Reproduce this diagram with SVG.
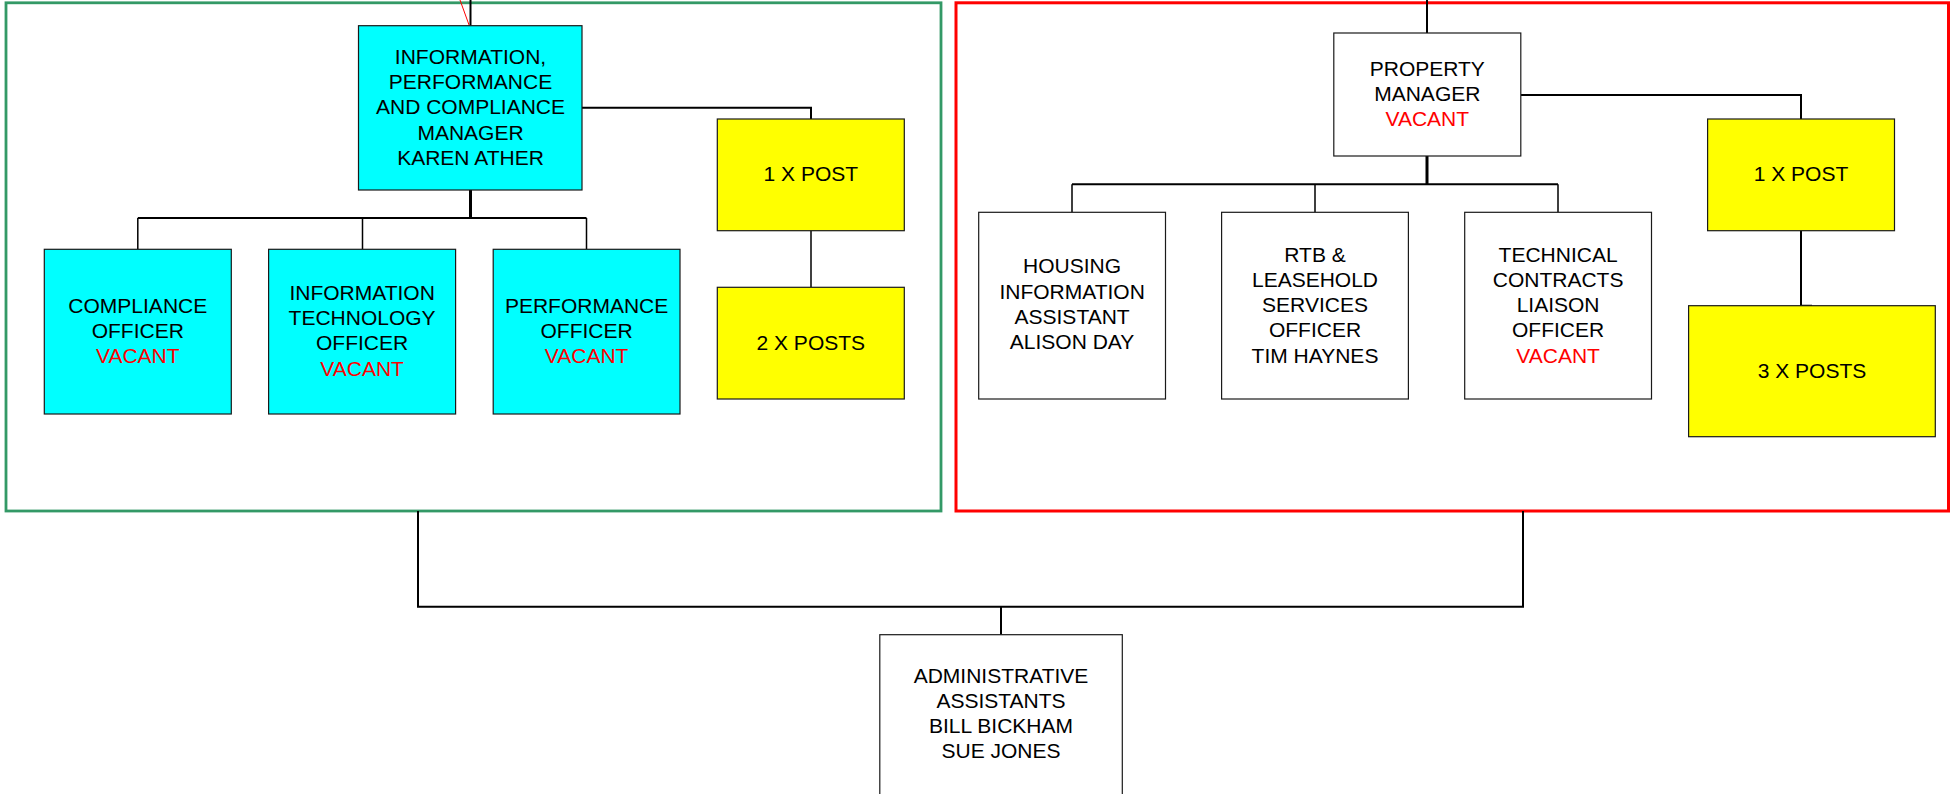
<svg xmlns="http://www.w3.org/2000/svg" width="1950" height="794" viewBox="0 0 1950 794">
  <style>
    .box { stroke: #1a1a1a; stroke-width: 1.2; }
    .cyan { fill: #00ffff; }
    .yellow { fill: #ffff00; }
    .white { fill: #ffffff; }
    .lbl { font-family: "Liberation Sans", Arial, sans-serif; font-size: 21px; fill: #000; text-anchor: middle; }
    .vac { fill: #ff0000; }
    .wire { fill: none; stroke: #000; stroke-width: 2; }
    .thick { stroke-width: 3; }
    .thin { stroke-width: 1.5; }
  </style>

  <rect width="1950" height="794" fill="#ffffff"/>

  <!-- section frames -->
  <g id="frames" fill="none">
    <rect id="frame-information" x="6" y="2.8" width="935" height="508.2" stroke="#339966" stroke-width="2.8"/>
    <rect id="frame-property" x="956" y="2.8" width="992.5" height="508.2" stroke="#ff0000" stroke-width="3"/>
  </g>

  <!-- connectors -->
  <g id="connectors" class="wire">
    <path d="M470.5 0 V25.7"/>
    <path d="M460 0 L469.3 25.7" stroke="#ff0000" stroke-width="1"/>
    <path d="M582 107.7 H811 V119"/>
    <path class="thick" d="M470.5 190 V218"/>
    <path d="M137.8 218 H586.5"/>
    <path class="thin" d="M137.8 218 V249 M362.5 218 V249 M586.5 218 V249"/>
    <path class="thin" d="M811 231 V287"/>

    <path d="M1427 0 V33"/>
    <path d="M1521 95 H1801 V119"/>
    <path class="thick" d="M1427 156 V184.3"/>
    <path d="M1072 184.3 H1558"/>
    <path class="thin" d="M1072 184.3 V212.3 M1315 184.3 V212.3 M1558 184.3 V212.3"/>
    <path d="M1801 231 V305.7 H1812"/>

    <path d="M418 511 V606.7 H1523 V511"/>
    <path d="M1001 606.7 V634.7"/>
  </g>

  <!-- information, performance and compliance section -->
  <g id="ipc-manager">
    <rect class="box cyan" x="358.5" y="25.7" width="223.5" height="164.3"/>
    <text class="lbl" x="470.5" y="64">INFORMATION,</text>
    <text class="lbl" x="470.5" y="89.2">PERFORMANCE</text>
    <text class="lbl" x="470.5" y="114.4">AND COMPLIANCE</text>
    <text class="lbl" x="470.5" y="139.6">MANAGER</text>
    <text class="lbl" x="470.5" y="164.8">KAREN ATHER</text>
  </g>
  <g id="compliance-officer">
    <rect class="box cyan" x="44.3" y="249.3" width="187" height="164.7"/>
    <text class="lbl" x="137.8" y="312.5">COMPLIANCE</text>
    <text class="lbl" x="137.8" y="337.7">OFFICER</text>
    <text class="lbl vac" x="137.8" y="362.9">VACANT</text>
  </g>
  <g id="it-officer">
    <rect class="box cyan" x="268.6" y="249.3" width="187" height="164.7"/>
    <text class="lbl" x="362.1" y="300">INFORMATION</text>
    <text class="lbl" x="362.1" y="325.2">TECHNOLOGY</text>
    <text class="lbl" x="362.1" y="350.4">OFFICER</text>
    <text class="lbl vac" x="362.1" y="375.6">VACANT</text>
  </g>
  <g id="performance-officer">
    <rect class="box cyan" x="493.2" y="249.3" width="186.8" height="164.7"/>
    <text class="lbl" x="586.6" y="312.5">PERFORMANCE</text>
    <text class="lbl" x="586.6" y="337.7">OFFICER</text>
    <text class="lbl vac" x="586.6" y="362.9">VACANT</text>
  </g>
  <g id="ipc-post-1">
    <rect class="box yellow" x="717.3" y="119" width="187" height="111.7"/>
    <text class="lbl" x="810.8" y="181">1 X POST</text>
  </g>
  <g id="ipc-posts-2">
    <rect class="box yellow" x="717.3" y="287.3" width="187" height="111.7"/>
    <text class="lbl" x="810.8" y="350">2 X POSTS</text>
  </g>

  <!-- property section -->
  <g id="property-manager">
    <rect class="box white" x="1333.8" y="33" width="187" height="123"/>
    <text class="lbl" x="1427.3" y="75.7">PROPERTY</text>
    <text class="lbl" x="1427.3" y="100.9">MANAGER</text>
    <text class="lbl vac" x="1427.3" y="126.1">VACANT</text>
  </g>
  <g id="housing-information-assistant">
    <rect class="box white" x="978.7" y="212.3" width="186.8" height="186.7"/>
    <text class="lbl" x="1072.1" y="273.3">HOUSING</text>
    <text class="lbl" x="1072.1" y="298.5">INFORMATION</text>
    <text class="lbl" x="1072.1" y="323.7">ASSISTANT</text>
    <text class="lbl" x="1072.1" y="349">ALISON DAY</text>
  </g>
  <g id="rtb-leasehold-officer">
    <rect class="box white" x="1221.6" y="212.3" width="186.8" height="186.7"/>
    <text class="lbl" x="1315" y="261.7">RTB &amp;</text>
    <text class="lbl" x="1315" y="286.9">LEASEHOLD</text>
    <text class="lbl" x="1315" y="312.1">SERVICES</text>
    <text class="lbl" x="1315" y="337.3">OFFICER</text>
    <text class="lbl" x="1315" y="362.5">TIM HAYNES</text>
  </g>
  <g id="technical-contracts-officer">
    <rect class="box white" x="1464.7" y="212.3" width="186.8" height="186.7"/>
    <text class="lbl" x="1558.1" y="261.7">TECHNICAL</text>
    <text class="lbl" x="1558.1" y="286.9">CONTRACTS</text>
    <text class="lbl" x="1558.1" y="312.1">LIAISON</text>
    <text class="lbl" x="1558.1" y="337.3">OFFICER</text>
    <text class="lbl vac" x="1558.1" y="362.5">VACANT</text>
  </g>
  <g id="property-post-1">
    <rect class="box yellow" x="1707.6" y="119" width="186.9" height="111.7"/>
    <text class="lbl" x="1801" y="181">1 X POST</text>
  </g>
  <g id="property-posts-3">
    <rect class="box yellow" x="1688.6" y="305.7" width="246.7" height="131"/>
    <text class="lbl" x="1812" y="377.7">3 X POSTS</text>
  </g>

  <!-- shared administration -->
  <g id="administrative-assistants">
    <rect class="box white" x="879.8" y="634.7" width="242.5" height="200"/>
    <text class="lbl" x="1001" y="682.7">ADMINISTRATIVE</text>
    <text class="lbl" x="1001" y="707.9">ASSISTANTS</text>
    <text class="lbl" x="1001" y="733.1">BILL BICKHAM</text>
    <text class="lbl" x="1001" y="758.3">SUE JONES</text>
  </g>
</svg>
